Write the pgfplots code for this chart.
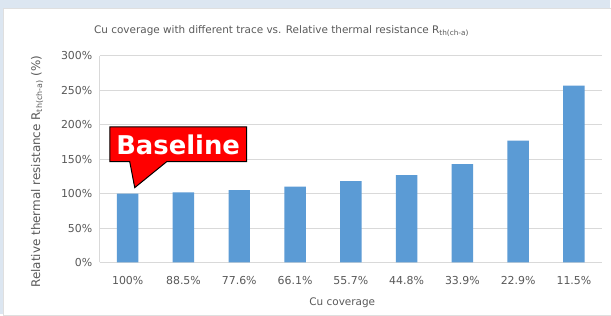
\documentclass[border=0pt]{standalone}
\usepackage{pgfplots}
\pgfplotsset{compat=1.18}
\usepackage{fontspec}
\setmainfont{DejaVu Sans}
\definecolor{barblue}{HTML}{5B9BD5}
\definecolor{txtgray}{HTML}{595959}
\definecolor{gridgray}{HTML}{D9D9D9}
\definecolor{bgblue}{RGB}{220,230,241}
\begin{document}
\begin{tikzpicture}[x=1bp,y=1bp]
\fill[bgblue] (0,0) rectangle (611,-315);
\filldraw[fill=white,draw=gray!25] (3,-8) rectangle (612,-316);
\begin{axis}[
  at={(100bp,-263bp)}, anchor=south west,
  scale only axis, width=503bp, height=207bp,
  xmin=-0.5, xmax=8.5, ymin=0, ymax=300,
  ytick={0,50,...,300},
  yticklabels={0\%,50\%,100\%,150\%,200\%,250\%,300\%},
  xtick={0,...,8},
  xticklabels={100\%,88.5\%,77.6\%,66.1\%,55.7\%,44.8\%,33.9\%,22.9\%,11.5\%},
  major tick length=0pt,
  axis x line*=bottom, axis y line*=left,
  axis line style={gridgray, line width=0.8bp, -},
  ymajorgrids, grid style={gridgray, line width=0.8bp},
  tick label style={font=\fontsize{11}{13}\selectfont, text=txtgray},
  yticklabel style={xshift=-4bp},
  xticklabel style={yshift=-10bp},
  xlabel={Cu coverage},
  ylabel={Relative thermal resistance R\textsubscript{th(ch-a)} (\%)},
  xlabel style={at={(axis description cs:0.483,-0.197)}, anchor=center, font=\fontsize{10.5}{12}\selectfont, text=txtgray},
  ylabel style={at={(axis description cs:-0.125,0.44)}, anchor=center, font=\fontsize{12}{14}\selectfont, text=txtgray},
  title={Cu coverage with different trace vs. Relative thermal resistance R\textsubscript{th(ch-a)}},
  title style={at={(axis description cs:0.362,1.09)}, anchor=center, font=\fontsize{10.5}{12}\selectfont, text=txtgray},
  clip=false,
]
\addplot[ybar, bar width=21.5bp, fill=barblue, draw=none] coordinates {
 (0,100) (1,102) (2,105) (3,110) (4,118) (5,127) (6,143) (7,177) (8,257)};
\end{axis}
\filldraw[fill=red, draw=black, line width=1bp, line join=miter]
  (110,-127) -- (247,-127) -- (247,-162) -- (167,-162) -- (135,-188) -- (130,-162) -- (110,-162) -- cycle;
\node[text=white, font=\fontsize{26}{30}\bfseries\selectfont, anchor=center] at (178.5,-145) {Baseline};
\end{tikzpicture}
\end{document}
